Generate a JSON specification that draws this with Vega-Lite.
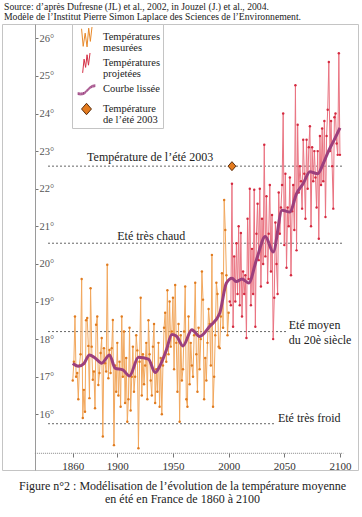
{
  "$schema": "https://vega.github.io/schema/vega-lite/v6.json",
  "width": 356,
  "height": 446,
  "autosize": {"type": "none"},
  "padding": {"left": 2, "top": 24, "right": 4, "bottom": 47},
  "title": {
    "text": ["Source: d’après Dufresne (JL) et al., 2002, in Jouzel (J.) et al., 2004.", "Modèle de l’Institut Pierre Simon Laplace des Sciences de l’Environnement."],
    "anchor": "start", "frame": "group", "fontSize": 9.7, "fontWeight": "normal", "font": "Liberation Serif",
    "color": "#222", "lineHeight": 10, "offset": 2, "dx": 2
  },
  "datasets": {
    "measured": [
      {"yr":1860,"t":16.9},{"yr":1861,"t":17.4},{"yr":1862,"t":18.6},{"yr":1863,"t":17.0},{"yr":1864,"t":17.1},{"yr":1865,"t":16.4},{"yr":1866,"t":17.3},{"yr":1867,"t":17.6},{"yr":1868,"t":19.6},{"yr":1869,"t":15.9},
      {"yr":1870,"t":16.65},{"yr":1871,"t":16.07},{"yr":1872,"t":18.5},{"yr":1873,"t":18.56},{"yr":1874,"t":17.82},{"yr":1875,"t":16.43},{"yr":1876,"t":19.35},{"yr":1877,"t":17.8},{"yr":1878,"t":16.92},{"yr":1879,"t":17.14},
      {"yr":1880,"t":16.16},{"yr":1881,"t":18.38},{"yr":1882,"t":18.6},{"yr":1883,"t":16.78},{"yr":1884,"t":17.1},{"yr":1885,"t":17.63},{"yr":1886,"t":18.03},{"yr":1887,"t":15.41},{"yr":1888,"t":17.76},{"yr":1889,"t":17.36},
      {"yr":1890,"t":17.14},{"yr":1891,"t":19.98},{"yr":1892,"t":16.96},{"yr":1893,"t":17.71},{"yr":1894,"t":17.1},{"yr":1895,"t":17.76},{"yr":1896,"t":18.51},{"yr":1897,"t":15.18},{"yr":1898,"t":17.3},{"yr":1899,"t":16.6},
      {"yr":1900,"t":17.9},{"yr":1901,"t":16.5},{"yr":1902,"t":17.4},{"yr":1903,"t":16.2},{"yr":1904,"t":18.6},{"yr":1905,"t":17.0},{"yr":1906,"t":18.2},{"yr":1907,"t":16.3},{"yr":1908,"t":17.5},{"yr":1909,"t":15.8},
      {"yr":1910,"t":16.4},{"yr":1911,"t":18.3},{"yr":1912,"t":16.1},{"yr":1913,"t":17.0},{"yr":1914,"t":17.8},{"yr":1915,"t":16.6},{"yr":1916,"t":17.0},{"yr":1917,"t":18.1},{"yr":1918,"t":17.7},{"yr":1919,"t":15.1},
      {"yr":1920,"t":17.4},{"yr":1921,"t":19.1},{"yr":1922,"t":16.5},{"yr":1923,"t":17.6},{"yr":1924,"t":16.8},{"yr":1925,"t":17.3},{"yr":1926,"t":17.9},{"yr":1927,"t":16.4},{"yr":1928,"t":18.5},{"yr":1929,"t":17.6},
      {"yr":1930,"t":16.9},{"yr":1931,"t":16.5},{"yr":1932,"t":17.8},{"yr":1933,"t":18.4},{"yr":1934,"t":16.3},{"yr":1935,"t":17.2},{"yr":1936,"t":16.6},{"yr":1937,"t":17.9},{"yr":1938,"t":16.2},{"yr":1939,"t":17.5},
      {"yr":1940,"t":16.0},{"yr":1941,"t":17.3},{"yr":1942,"t":18.3},{"yr":1943,"t":18.7},{"yr":1944,"t":17.4},{"yr":1945,"t":19.3},{"yr":1946,"t":17.6},{"yr":1947,"t":19.0},{"yr":1948,"t":17.8},{"yr":1949,"t":18.2},
      {"yr":1950,"t":19.1},{"yr":1951,"t":17.2},{"yr":1952,"t":19.44},{"yr":1953,"t":17.9},{"yr":1954,"t":16.6},{"yr":1955,"t":18.4},{"yr":1956,"t":15.8},{"yr":1957,"t":18.1},{"yr":1958,"t":16.9},{"yr":1959,"t":17.2},
      {"yr":1960,"t":18.2},{"yr":1961,"t":19.4},{"yr":1962,"t":16.4},{"yr":1963,"t":16.2},{"yr":1964,"t":18.6},{"yr":1965,"t":16.8},{"yr":1966,"t":17.9},{"yr":1967,"t":17.3},{"yr":1968,"t":17.0},{"yr":1969,"t":18.1},
      {"yr":1970,"t":19.5},{"yr":1971,"t":17.6},{"yr":1972,"t":16.6},{"yr":1973,"t":18.3},{"yr":1974,"t":17.2},{"yr":1975,"t":18.0},{"yr":1976,"t":19.8},{"yr":1977,"t":19.05},{"yr":1978,"t":16.4},{"yr":1979,"t":17.5},
      {"yr":1980,"t":16.9},{"yr":1981,"t":17.9},{"yr":1982,"t":18.8},{"yr":1983,"t":18.4},{"yr":1984,"t":17.3},{"yr":1985,"t":20.24},{"yr":1986,"t":16.2},{"yr":1987,"t":17.0},{"yr":1988,"t":18.1},{"yr":1989,"t":19.5},
      {"yr":1990,"t":19.2},{"yr":1991,"t":17.8},{"yr":1992,"t":17.76},{"yr":1993,"t":18.6},{"yr":1994,"t":19.75},{"yr":1995,"t":18.3},{"yr":1996,"t":21.7},{"yr":1997,"t":20.9},{"yr":1998,"t":19.7},{"yr":1999,"t":18.1},
      {"yr":2000,"t":18.7}
    ],
    "projected": [
      {"yr":2001,"t":19.0},{"yr":2002,"t":18.9},{"yr":2003,"t":22.13},{"yr":2004,"t":18.33},{"yr":2005,"t":20.2},{"yr":2006,"t":19.0},{"yr":2007,"t":20.55},{"yr":2008,"t":19.2},{"yr":2009,"t":21.0},
      {"yr":2010,"t":18.9},{"yr":2011,"t":20.82},{"yr":2012,"t":18.6},{"yr":2013,"t":19.8},{"yr":2014,"t":19.2},{"yr":2015,"t":19.7},{"yr":2016,"t":18.03},{"yr":2017,"t":21.2},{"yr":2018,"t":19.6},{"yr":2019,"t":22.0},
      {"yr":2020,"t":18.9},{"yr":2021,"t":20.4},{"yr":2022,"t":19.2},{"yr":2023,"t":21.97},{"yr":2024,"t":18.33},{"yr":2025,"t":20.8},{"yr":2026,"t":21.6},{"yr":2027,"t":20.1},{"yr":2028,"t":22.0},{"yr":2029,"t":19.4},
      {"yr":2030,"t":21.2},{"yr":2031,"t":20.0},{"yr":2032,"t":23.17},{"yr":2033,"t":20.2},{"yr":2034,"t":21.8},{"yr":2035,"t":19.5},{"yr":2036,"t":20.8},{"yr":2037,"t":22.1},{"yr":2038,"t":19.8},{"yr":2039,"t":21.3},
      {"yr":2040,"t":18.0},{"yr":2041,"t":19.1},{"yr":2042,"t":21.1},{"yr":2043,"t":20.0},{"yr":2044,"t":19.2},{"yr":2045,"t":21.9},{"yr":2046,"t":20.8},{"yr":2047,"t":21.5},{"yr":2048,"t":22.1},{"yr":2049,"t":24.0},
      {"yr":2050,"t":20.5},{"yr":2051,"t":22.4},{"yr":2052,"t":19.9},{"yr":2053,"t":21.5},{"yr":2054,"t":21.0},{"yr":2055,"t":22.3},{"yr":2056,"t":19.7},{"yr":2057,"t":21.4},{"yr":2058,"t":22.1},{"yr":2059,"t":20.9},
      {"yr":2060,"t":24.75},{"yr":2061,"t":20.36},{"yr":2062,"t":23.7},{"yr":2063,"t":21.9},{"yr":2064,"t":22.6},{"yr":2065,"t":22.2},{"yr":2066,"t":21.47},{"yr":2067,"t":23.3},{"yr":2068,"t":22.4},{"yr":2069,"t":21.2},
      {"yr":2070,"t":23.3},{"yr":2071,"t":22.0},{"yr":2072,"t":23.1},{"yr":2073,"t":23.66},{"yr":2074,"t":21.0},{"yr":2075,"t":23.1},{"yr":2076,"t":22.2},{"yr":2077,"t":23.0},{"yr":2078,"t":22.3},{"yr":2079,"t":21.5},
      {"yr":2080,"t":23.0},{"yr":2081,"t":20.67},{"yr":2082,"t":23.4},{"yr":2083,"t":22.1},{"yr":2084,"t":23.6},{"yr":2085,"t":22.2},{"yr":2086,"t":23.8},{"yr":2087,"t":21.25},{"yr":2088,"t":23.4},{"yr":2089,"t":24.1},
      {"yr":2090,"t":25.37},{"yr":2091,"t":23.0},{"yr":2092,"t":23.8},{"yr":2093,"t":22.6},{"yr":2094,"t":21.47},{"yr":2095,"t":23.9},{"yr":2096,"t":24.0},{"yr":2097,"t":23.2},{"yr":2098,"t":22.9},{"yr":2099,"t":25.6},
      {"yr":2100,"t":22.9}
    ],
    "smooth": [
      {"yr":1860,"t":17.35},{"yr":1865,"t":17.28},{"yr":1870,"t":17.35},{"yr":1875,"t":17.58},{"yr":1880,"t":17.5},{"yr":1886,"t":17.36},{"yr":1893,"t":17.58},{"yr":1898,"t":17.23},{"yr":1905,"t":17.18},{"yr":1911,"t":17.02},
      {"yr":1919,"t":17.52},{"yr":1928,"t":17.47},{"yr":1934,"t":17.11},{"yr":1938,"t":17.27},{"yr":1944,"t":17.7},{"yr":1949,"t":18.12},{"yr":1953,"t":18.08},{"yr":1959,"t":17.82},{"yr":1967,"t":18.25},{"yr":1974,"t":18.07},
      {"yr":1983,"t":18.34},{"yr":1992,"t":18.69},{"yr":1998,"t":19.49},{"yr":2003,"t":19.62},{"yr":2007,"t":19.53},{"yr":2012,"t":19.6},{"yr":2018,"t":19.49},{"yr":2025,"t":20.11},{"yr":2033,"t":20.73},{"yr":2040,"t":20.32},
      {"yr":2048,"t":21.43},{"yr":2055,"t":21.38},{"yr":2061,"t":21.87},{"yr":2067,"t":22.14},{"yr":2073,"t":22.45},{"yr":2080,"t":22.4},{"yr":2085,"t":22.67},{"yr":2090,"t":23.02},{"yr":2094,"t":23.25},{"yr":2100,"t":23.62}
    ],
    "refs": [
      {"yr":1838,"yr2":2103,"t":22.6},
      {"yr":1838,"yr2":2103,"t":20.55},
      {"yr":1838,"yr2":2052,"t":18.2},
      {"yr":1838,"yr2":2041,"t":15.75}
    ],
    "baseline": [{"yr":1826,"yr2":2103,"t":14.963}],
    "labelsCenter": [
      {"yr":1929.5,"t":22.84,"label":"Température de l’été 2003"},
      {"yr":1930.5,"t":20.75,"label":"Eté très chaud"}
    ],
    "labelsLeft": [
      {"yr":2054,"t":18.38,"label":"Eté moyen"},
      {"yr":2054,"t":17.98,"label":"du 20è siècle"},
      {"yr":2044.3,"t":15.9,"label":"Eté très froid"}
    ],
    "summer2003": [{"yr":2003,"t":22.6,"s":"Température|de l’été 2003"}]
  },
  "encoding": {
    "x": {
      "field": "yr", "type": "quantitative",
      "scale": {"domain": [1796.45, 2116.2], "nice": false, "zero": false},
      "axis": {
        "orient": "bottom", "offset": -17, "values": [1860, 1900, 1950, 2000, 2050, 2100],
        "domain": false, "grid": false, "tickSize": 4, "tickColor": "#777", "format": "d",
        "labelFont": "Liberation Serif", "labelFontSize": 11, "labelColor": "#333", "labelPadding": 3,
        "title": ["Figure n°2 : Modélisation de l’évolution de la température moyenne", "en été en France de 1860 à 2100"],
        "titleFont": "Liberation Serif", "titleFontSize": 12, "titleFontWeight": "normal", "titleColor": "#222",
        "titleLineHeight": 13, "titleX": 180, "titleY": 27, "titleAlign": "center", "titleBaseline": "top", "titleAnchor": null
      }
    },
    "y": {
      "field": "t", "type": "quantitative",
      "scale": {"domain": [14.519, 26.3803], "nice": false, "zero": false},
      "axis": {
        "orient": "right", "offset": -323, "values": [16, 17, 18, 19, 20, 21, 22, 23, 24, 25, 26],
        "grid": false, "domainColor": "#9a9a9a", "tickColor": "#777", "tickSize": 3,
        "labelExpr": "datum.value + '°'", "labelFont": "Liberation Serif", "labelFontSize": 10.5, "labelColor": "#555",
        "labelPadding": 1, "title": null
      }
    }
  },
  "layer": [
    {
      "data": {"name": "refs"},
      "mark": {"type": "rule", "color": "#333", "strokeWidth": 1, "strokeDash": [1.5, 2.5]},
      "encoding": {"x2": {"field": "yr2"}}
    },
    {
      "data": {"name": "baseline"},
      "mark": {"type": "rule", "color": "#888", "strokeWidth": 1, "strokeDash": [1, 1]},
      "encoding": {"x2": {"field": "yr2"}}
    },
    {
      "data": {"name": "measured"},
      "mark": {"type": "line", "color": "#F2A85E", "strokeWidth": 1, "point": {"filled": true, "size": 6, "color": "#E07B1F"}}
    },
    {
      "data": {"name": "projected"},
      "mark": {"type": "line", "color": "#EA7482", "strokeWidth": 1, "point": {"filled": true, "size": 6, "color": "#D42A40"}}
    },
    {
      "data": {"name": "smooth"},
      "mark": {"type": "line", "color": "#9C3F7D", "strokeWidth": 3, "interpolate": "monotone"}
    },
    {
      "data": {"name": "labelsCenter"},
      "mark": {"type": "text", "align": "center", "baseline": "middle", "fontSize": 12, "color": "#222", "font": "Liberation Serif"},
      "encoding": {"text": {"field": "label"}}
    },
    {
      "data": {"name": "labelsLeft"},
      "mark": {"type": "text", "align": "left", "baseline": "middle", "fontSize": 12, "color": "#222", "font": "Liberation Serif"},
      "encoding": {"text": {"field": "label"}}
    },
    {
      "data": {"name": "summer2003"},
      "mark": {"type": "point", "size": 300, "strokeWidth": 1, "opacity": 1},
      "encoding": {
        "shape": {
          "field": "s", "type": "nominal",
          "scale": {
            "domain": ["Températures|mesurées", "Températures|projetées", "Courbe lissée", "Température|de l’été 2003"],
            "range": [
              "M-0.45,-0.75L-0.3,0.85L-0.12,-0.35L0.05,0.9L0.2,-0.8L0.35,0.4L0.5,-0.92",
              "M-0.35,0.9L-0.22,-0.35L-0.08,0.4L0.05,-0.75L0.18,0.2L0.32,-0.92",
              "M-0.8,0.34C-0.45,0.42 -0.2,0.37 0,0.12C0.2,-0.13 0.45,-0.38 0.8,-0.38M-0.8,0.42C-0.45,0.5 -0.2,0.45 0,0.2C0.2,-0.05 0.45,-0.3 0.8,-0.3M-0.8,0.5C-0.45,0.58 -0.2,0.53 0,0.28C0.2,0.03 0.45,-0.22 0.8,-0.22",
              "M0,-0.52L0.45,0L0,0.52L-0.45,0Z"
            ]
          },
          "legend": {"title": null, "orient": "none", "legendX": 70, "legendY": 0, "labelExpr": "split(datum.label, '|')"}
        },
        "fill": {
          "field": "s", "type": "nominal",
          "scale": {
            "domain": ["Températures|mesurées", "Températures|projetées", "Courbe lissée", "Température|de l’été 2003"],
            "range": ["transparent", "transparent", "transparent", "#E47B1E"]
          },
          "legend": {"title": null, "orient": "none", "legendX": 70, "legendY": 0, "labelExpr": "split(datum.label, '|')"}
        },
        "stroke": {
          "field": "s", "type": "nominal",
          "scale": {
            "domain": ["Températures|mesurées", "Températures|projetées", "Courbe lissée", "Température|de l’été 2003"],
            "range": ["#E8892A", "#D52F45", "#9B3D7E", "#5A2E0E"]
          },
          "legend": {"title": null, "orient": "none", "legendX": 70, "legendY": 0, "labelExpr": "split(datum.label, '|')"}
        }
      }
    }
  ],
  "config": {
    "font": "Liberation Serif",
    "view": {"stroke": "#c4c4c4", "strokeWidth": 1},
    "style": {"guide-label": {"lineHeight": 10.5}},
    "legend": {
      "symbolSize": 484, "symbolStrokeWidth": 1, "clipHeight": 20,
      "labelFont": "Liberation Serif", "labelFontSize": 10.5, "labelColor": "#222", "labelLimit": 0,
      "fillColor": "white", "strokeColor": "#c4c4c4", "padding": 3, "rowPadding": 0, "labelOffset": 5,
      "symbolOffset": 0
    }
  }
}
